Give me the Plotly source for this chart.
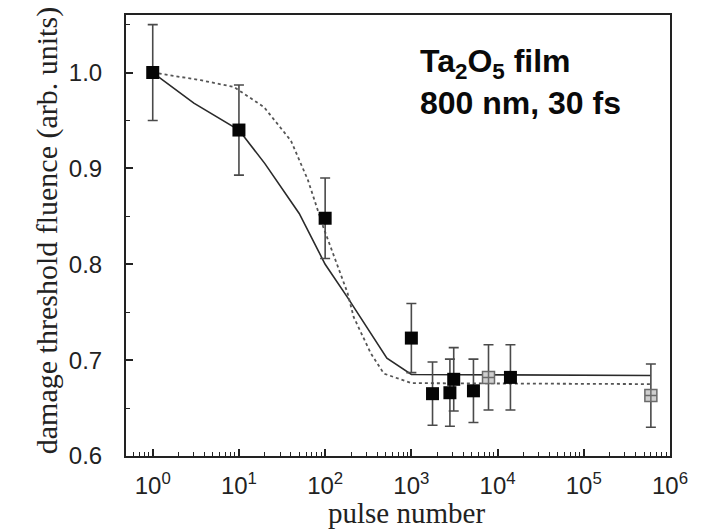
import plotly.graph_objects as go

# Measured damage threshold (normalised) vs. pulse number
pulses_filled = [1, 10, 100, 1000, 1760, 2800, 3100, 5250, 14100]
fluence_filled = [1.000, 0.940, 0.848, 0.723, 0.665, 0.666, 0.680, 0.668, 0.682]
err_filled = [0.050, 0.047, 0.042, 0.036, 0.033, 0.035, 0.033, 0.033, 0.034]

pulses_open = [7850, 600000]
fluence_open = [0.682, 0.663]
err_open = [0.034, 0.033]

# Model curves
fit_solid_x = [1, 3, 10, 20, 50, 100, 180, 340, 520, 1000, 600000]
fit_solid_y = [1.000, 0.968, 0.940, 0.905, 0.853, 0.800, 0.766, 0.728, 0.702, 0.685, 0.684]

fit_dot_x = [1, 3.6, 8.7, 19.5, 40, 63, 95, 182, 214, 339, 479, 1000, 600000]
fit_dot_y = [1.000, 0.992, 0.985, 0.964, 0.929, 0.888, 0.839, 0.770, 0.745, 0.707, 0.686, 0.676, 0.675]

x_tickvals = [1, 10, 100, 1000, 10000, 100000, 1000000]
x_ticktext = ["10<sup>%d</sup>" % i for i in range(7)]
y_tickvals = [0.6, 0.7, 0.8, 0.9, 1.0]

SERIF = "Liberation Serif, Times New Roman"
SANS = "Liberation Sans, Arial"

fig = go.Figure()

fig.add_trace(go.Scatter(
    x=fit_solid_x, y=fit_solid_y, mode="lines",
    line=dict(color="#2a2a2a", width=1.6), showlegend=False))
fig.add_trace(go.Scatter(
    x=fit_dot_x, y=fit_dot_y, mode="lines",
    line=dict(color="#555555", width=1.8, dash="dot"), showlegend=False))

fig.add_trace(go.Scatter(
    x=pulses_filled, y=fluence_filled, mode="markers",
    marker=dict(symbol="square", size=13, color="#050505",
                line=dict(color="#050505", width=0)),
    error_y=dict(type="data", array=err_filled, color="#4a4a4a",
                 thickness=1.6, width=5),
    showlegend=False))
fig.add_trace(go.Scatter(
    x=pulses_open, y=fluence_open, mode="markers",
    marker=dict(symbol="square-cross", size=12, color="#cfcfcf",
                line=dict(color="#6a6a6a", width=1.5)),
    error_y=dict(type="data", array=err_open, color="#4a4a4a",
                 thickness=1.6, width=5),
    showlegend=False))

fig.add_annotation(
    x=0.537, y=0.94, xref="paper", yref="paper",
    xanchor="left", yanchor="top", align="left", showarrow=False,
    text="<b>Ta<sub>2</sub>O<sub>5</sub> film<br>800 nm, 30 fs</b>",
    font=dict(family=SANS, size=32, color="#0a0a0a"))

# Axis titles
fig.add_annotation(
    x=0.5165, y=-0.171, xref="paper", yref="paper",
    xanchor="center", yanchor="bottom", showarrow=False,
    text="pulse number", font=dict(family=SERIF, size=29, color="#222"))
fig.add_annotation(
    x=-0.145, y=0.51, xref="paper", yref="paper",
    xanchor="center", yanchor="middle", showarrow=False, textangle=-90,
    text="damage threshold fluence (arb. units)",
    font=dict(family=SERIF, size=30, color="#222"))

fig.update_xaxes(
    type="log", range=[-0.31, 6.0],
    tickvals=x_tickvals, ticktext=x_ticktext,
    ticks="inside", ticklen=7, tickwidth=1.5, tickcolor="#222",
    minor=dict(ticks="inside", ticklen=4, tickwidth=1.2, tickcolor="#222",
               dtick="D1", showgrid=False),
    showline=True, linecolor="#222", linewidth=2, mirror=True,
    showgrid=False, zeroline=False, ticklabelstandoff=7,
    tickfont=dict(family=SANS, size=24, color="#222"))
fig.update_yaxes(
    range=[0.6, 1.06],
    tickvals=y_tickvals, tickformat=".1f",
    ticks="inside", ticklen=7, tickwidth=1.5, tickcolor="#222",
    minor=dict(ticks="inside", ticklen=4, tickwidth=1.2, tickcolor="#222",
               dtick=0.05, showgrid=False),
    showline=True, linecolor="#222", linewidth=2, mirror=True,
    showgrid=False, zeroline=False, ticklabelstandoff=17,
    tickfont=dict(family=SANS, size=24, color="#222"))

fig.update_layout(
    width=703, height=532,
    margin=dict(l=126, r=33, t=15, b=76),
    paper_bgcolor="white", plot_bgcolor="white")

fig.write_html("out.html")
